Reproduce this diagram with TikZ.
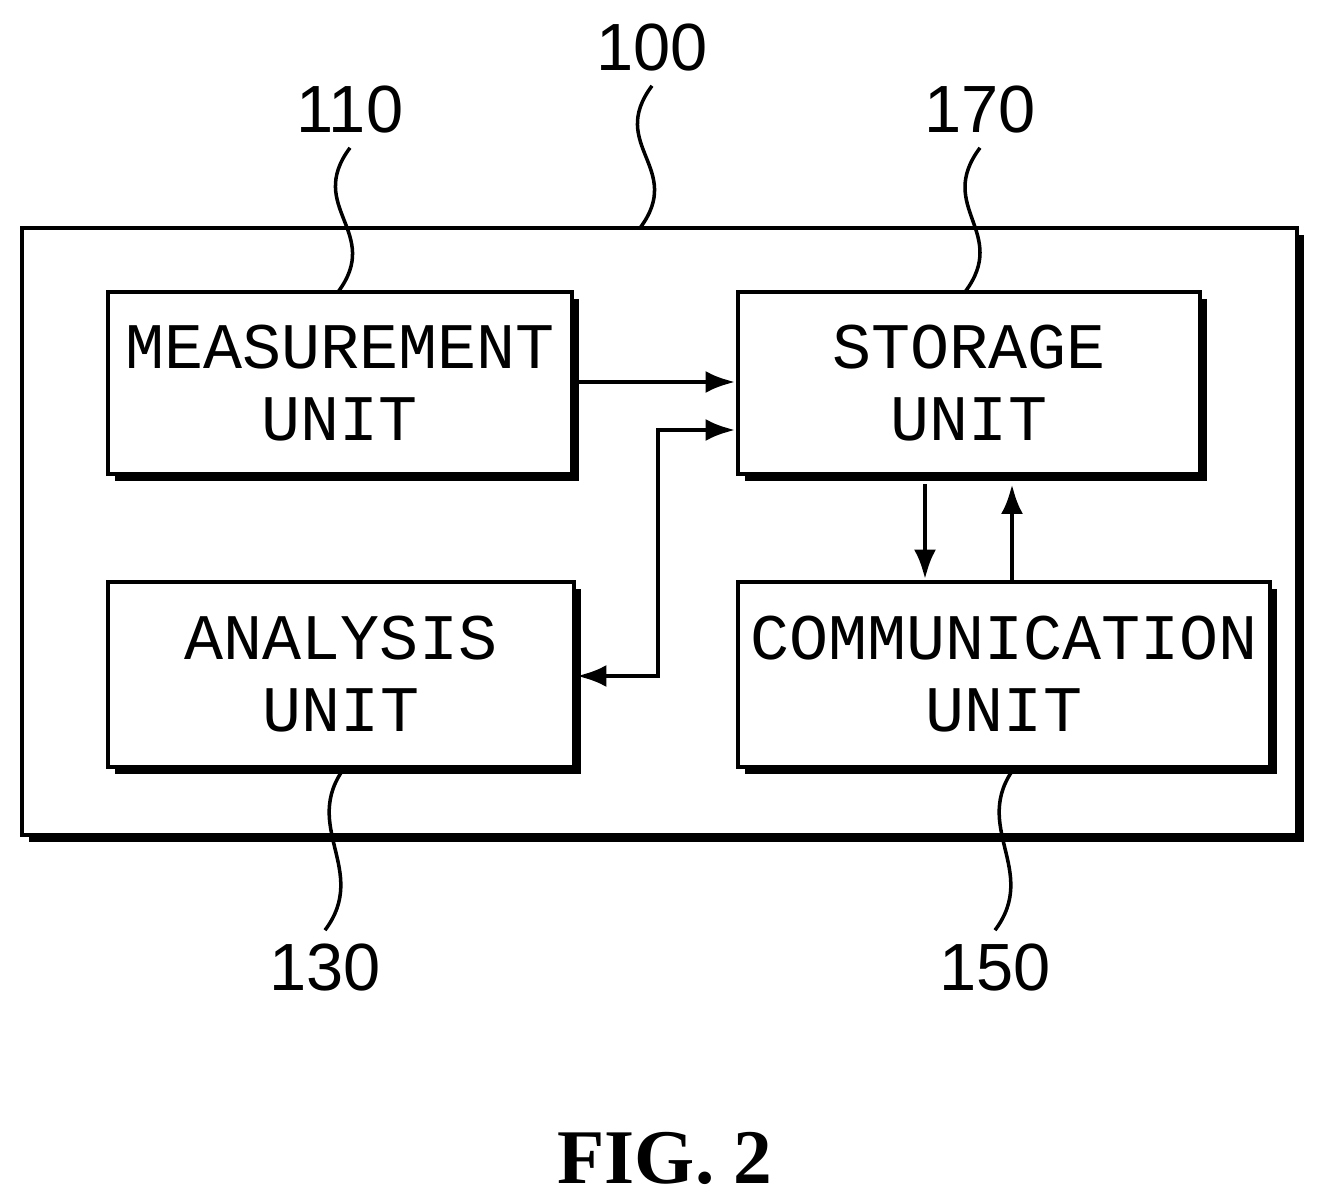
\documentclass[tikz,border=0pt]{standalone}
\usepackage{fontspec}
\setmainfont{Liberation Serif}
\setmonofont{Liberation Mono}
\setsansfont{Liberation Sans}
\usetikzlibrary{arrows.meta,positioning,shadows}
\tikzset{font=\footnotesize}
\tikzset{every picture/.style={line width=1.4pt}}
\tikzstyle{unit}=[draw,fill=white,align=center,inner sep=0pt,
  font=\fontsize{18.5}{20.5}\selectfont\ttfamily,
  drop shadow={shadow xshift=0.07,shadow yshift=-0.07,fill=black,opacity=1}]
\tikzstyle{num}=[font=\fontsize{19}{20}\selectfont\sffamily]
\tikzstyle{leader}=[line width=1pt]
\begin{document}
\begin{tikzpicture}[>={Latex[length=3mm,width=2.2mm]}]
\useasboundingbox (0,0) rectangle (13.25,12.03);
\node[unit,minimum width=12.75cm,minimum height=6.07cm] (sys) at (6.595,6.715) {};
\node[unit,minimum width=4.64cm,minimum height=1.82cm] (meas) at (3.40,8.20) {MEASUREMENT\\UNIT};
\node[unit,minimum width=4.62cm,minimum height=1.82cm] (stor) at (9.69,8.20) {STORAGE\\UNIT};
\node[unit,minimum width=4.66cm,minimum height=1.85cm] (anal) at (3.41,5.285) {ANALYSIS\\UNIT};
\node[unit,minimum width=5.32cm,minimum height=1.85cm] (comm) at (10.04,5.285) {COMMUNICATION\\UNIT};
\node[num] (n100) at (6.52,11.55) {100};
\node[num] (n110) at (3.50,10.93) {110};
\node[num] (n170) at (9.80,10.93) {170};
\node[num] (n130) at (3.25,2.35) {130};
\node[num] (n150) at (9.95,2.35) {150};
\node[font=\fontsize{22}{24}\selectfont\bfseries] (fig) at (6.65,0.45) {FIG. 2};
% leaders
\draw[leader] (n100.south) .. controls +(-0.45,-0.6) and +(0.45,0.6) .. (6.40,9.75);
\draw[leader] (n110.south) .. controls +(-0.45,-0.6) and +(0.45,0.6) .. (3.38,9.11);
\draw[leader] (n170.south) .. controls +(-0.45,-0.6) and +(0.45,0.6) .. (9.65,9.11);
\draw[leader] (3.45,4.36) .. controls +(-0.45,-0.6) and +(0.45,0.6) .. (n130.north);
\draw[leader] (10.15,4.36) .. controls +(-0.45,-0.6) and +(0.45,0.6) .. (n150.north);
% connectors
\draw[->] (meas.east |- 0,8.21) -- (stor.west |- 0,8.21);
\draw[<->] (anal.east |- 0,5.27) -| (6.58,7.73) -- (stor.west |- 0,7.73);
\draw[->] (9.25,7.19) -- (comm.north -| 9.25,0);
\draw[->] (comm.north -| 10.12,0) -- (10.12,7.19);
\end{tikzpicture}
\end{document}
